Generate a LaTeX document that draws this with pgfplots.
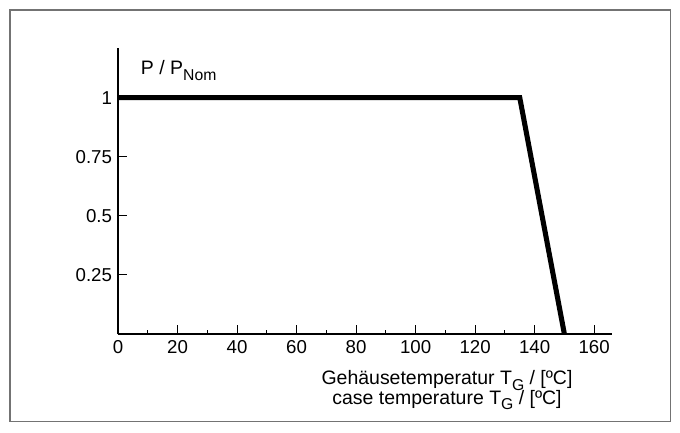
\documentclass[border=0pt]{standalone}
\usepackage{pgfplots}
\pgfplotsset{compat=1.18}
\usepackage{fontspec}
\setmainfont{Liberation Sans}
\newcommand{\chartfont}{\fontsize{14}{12.75}\selectfont}
\newcommand{\labelfont}{\fontsize{14.6}{12.8}\selectfont}
\newcommand{\sub}[1]{\raisebox{-4pt}[\height][0pt]{\fontsize{11.8}{11.8}\selectfont #1}}

\begin{document}
\begin{tikzpicture}
	% page = 680x432 px, 1px = 0.75pt, axis origin at (118,334) px
	\useasboundingbox (-88.5pt,-73.5pt) rectangle (421.5pt,250.5pt);
	\draw[line width=0.9pt, black!55] (-81pt,-65.5pt) rectangle (414.5pt,243pt);
	\begin{axis}[
	scale only axis,
	width=370.5pt, height=214.5pt,
	xmin=0, xmax=166,
	ymin=0, ymax=1.21,
	axis lines*=left,
	axis line style={line width=2.2pt},
	xtick={0,20,...,160},
	minor xtick={10,30,...,150},
	ytick={0.25,0.5,0.75,1},
	tick align=inside,
	major tick length=6.5pt,
	minor tick length=3pt,
	tick style={line width=0.8pt, black},
	tick label style={font=\chartfont},
	label style={font=\labelfont},
	/pgf/number format/assume math mode=true,
	xticklabel style={yshift=-1pt},
	yticklabel style={xshift=-1pt},
	xlabel={Gehäusetemperatur T\sub{G} / [ºC]\\case temperature T\sub{G} / [ºC]},
	xlabel style={at={(axis description cs:0.666,-0.127)}, anchor=north, align=center, inner sep=0pt},
	ylabel={P / P\sub{Nom}},
	ylabel style={at={(axis description cs:0.046,0.906)}, anchor=base west, rotate=-90, inner sep=0pt},
	clip=false,
	]
	\addplot[black, line width=3.8pt, line join=miter] coordinates {
		(0,1)
		(135,1)
		(150,0)
	};
	\end{axis}
\end{tikzpicture}
\end{document}
